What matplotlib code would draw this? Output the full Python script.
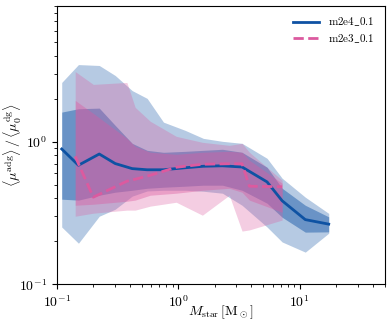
import numpy as np
import matplotlib
matplotlib.use("Agg")
import matplotlib.pyplot as plt
from matplotlib.ticker import FuncFormatter

plt.rcParams['mathtext.fontset'] = 'cm'
plt.rcParams['font.family'] = 'serif'
plt.rcParams['font.serif'] = ['DejaVu Serif']

# m2e4_0.1 : median and two percentile bands
mstar_4 = [0.110, 0.151, 0.224, 0.303, 0.418, 0.555, 0.756, 1.14, 1.61, 2.31, 3.35, 5.38, 7.16, 11.1, 17.3]
med_4 = [0.888, 0.683, 0.819, 0.702, 0.647, 0.635, 0.635, 0.656, 0.672, 0.677, 0.664, 0.522, 0.385, 0.284, 0.264]
lo1_4 = [0.395, 0.389, 0.421, 0.442, 0.456, 0.471, 0.479, 0.487, 0.495, 0.495, 0.456, 0.370, 0.295, 0.232, 0.233]
hi1_4 = [1.611, 1.701, 1.718, 1.30, 0.973, 0.869, 0.842, 0.855, 0.869, 0.884, 0.842, 0.661, 0.471, 0.358, 0.297]
lo2_4 = [0.252, 0.194, 0.300, 0.336, 0.415, 0.451, 0.456, 0.456, 0.449, 0.435, 0.358, 0.252, 0.198, 0.168, 0.228]
hi2_4 = [2.60, 3.47, 3.42, 2.91, 2.28, 2.01, 1.37, 1.20, 1.054, 1.005, 0.973, 0.764, 0.554, 0.408, 0.314]

# m2e3_0.1
mstar_3 = [0.142, 0.200, 0.378, 0.442, 0.588, 0.963, 1.58, 2.63, 3.35, 3.85, 7.16]
med_3 = [0.789, 0.408, 0.528, 0.545, 0.581, 0.661, 0.694, 0.700, 0.700, 0.487, 0.483]
lo1_3 = [0.358, 0.364, 0.382, 0.389, 0.421, 0.435, 0.456, 0.471, 0.442, 0.389, 0.320]
hi1_3 = [1.945, 1.578, 1.054, 0.927, 0.842, 0.815, 0.842, 0.855, 0.842, 0.740, 0.511]
lo2_3 = [0.300, 0.315, 0.331, 0.331, 0.353, 0.376, 0.305, 0.421, 0.236, 0.2405, 0.282]
hi2_3 = [3.10, 2.52, 2.60, 1.74, 1.39, 1.089, 0.989, 0.942, 0.973, 0.842, 0.536]

labels = [r'$\mathrm{m2e4\_0.1}$', r'$\mathrm{m2e3\_0.1}$']
c_blue = '#0e52a3'
c_pink = '#dc5a9f'

fig = plt.figure(figsize=(3.91, 3.26), dpi=100)
ax = fig.add_axes([0.145, 0.128, 0.839, 0.855])

ax.fill_between(mstar_4, lo2_4, hi2_4, color=c_blue, alpha=0.3, lw=0)
ax.fill_between(mstar_4, lo1_4, hi1_4, color=c_blue, alpha=0.45, lw=0)
ax.plot(mstar_4, med_4, color=c_blue, lw=2, label=labels[0])

ax.fill_between(mstar_3, lo2_3, hi2_3, color=c_pink, alpha=0.3, lw=0)
ax.fill_between(mstar_3, lo1_3, hi1_3, color=c_pink, alpha=0.4, lw=0)
ax.plot(mstar_3, med_3, color=c_pink, lw=2, ls='--', label=labels[1])

ax.set_xscale('log')
ax.set_yscale('log')
ax.set_xlim(0.1, 50)
ax.set_ylim(0.1, 9)

fmt = FuncFormatter(lambda v, p: r'$10^{%d}$' % int(round(np.log10(v))))
ax.xaxis.set_major_formatter(fmt)
ax.yaxis.set_major_formatter(fmt)
ax.tick_params(labelsize=10)

ax.set_xlabel(r'$M_{\rm star}\,[{\rm M_\odot}]$', fontsize=10)
ax.set_ylabel(r'$\langle \mu^{\rm adg}\rangle\,/\,\langle \mu_0^{\rm dg}\rangle$', fontsize=10)
ax.xaxis.set_label_coords(0.5, -0.07)
ax.yaxis.set_label_coords(-0.10, 0.5)

ax.legend(loc='upper right', frameon=False, fontsize=8, handlelength=2.4,
          labelspacing=0.35)

fig.savefig('out.png', dpi=100)
